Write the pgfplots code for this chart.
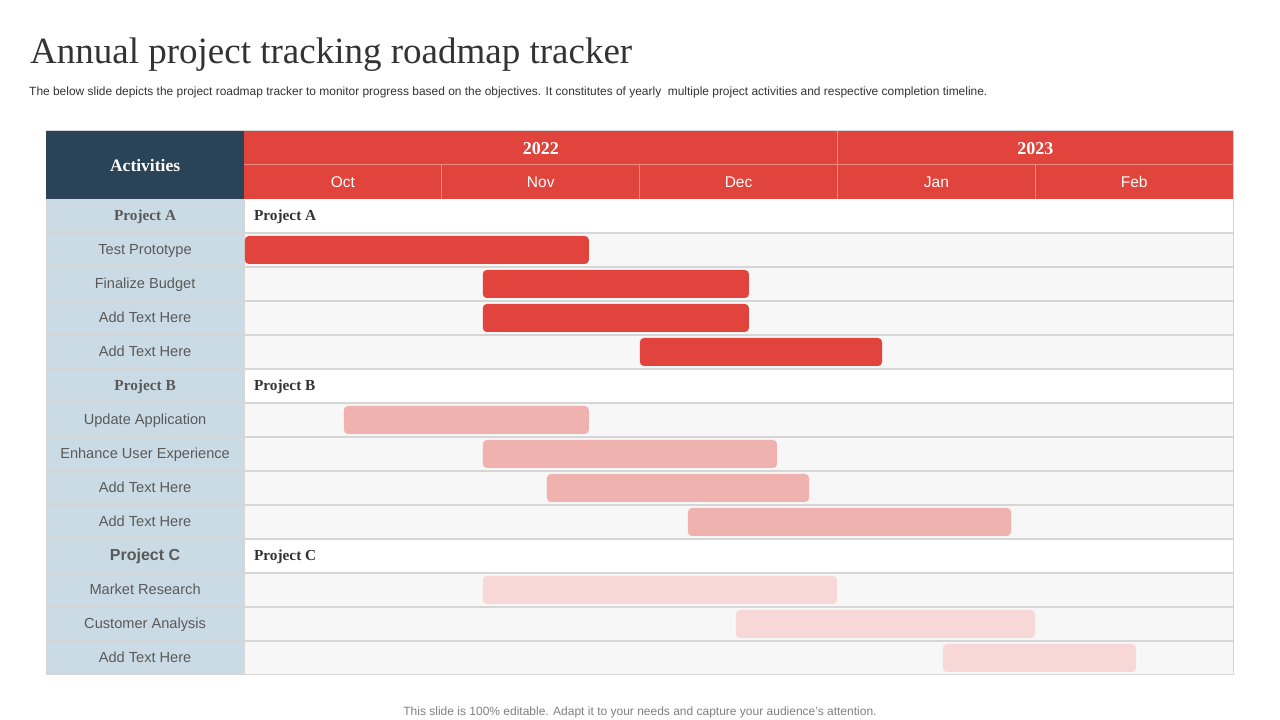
\documentclass[border=0pt]{standalone}
\usepackage{fontspec}
\setmainfont{Liberation Serif}
\setsansfont{Liberation Sans}
\usepackage{pgfplots}
\usepackage{pgfplotstable}
\pgfplotsset{compat=1.18}

\definecolor{hdrred}{HTML}{E0443C}
\definecolor{hdrline}{HTML}{EC8A85}
\definecolor{navy}{HTML}{2A4356}
\definecolor{lblue}{HTML}{CBDBE5}
\definecolor{rowgray}{HTML}{F7F7F7}
\definecolor{gridc}{HTML}{D6D6D6}
\definecolor{pinkm}{HTML}{F0B2AF}
\definecolor{pinkl}{HTML}{F8D8D6}
\definecolor{txtgray}{HTML}{595959}
\definecolor{txtdark}{HTML}{333333}

% bars: row centre (y), start and length in months from 1 Oct 2022
\pgfplotstableread{
y    start dur
12.5 0.005 1.739
11.5 1.208 1.345
10.5 1.208 1.345
9.5  2.002 1.224
}\tabA
\pgfplotstableread{
y    start dur
7.5  0.506 1.238
6.5  1.208 1.487
5.5  1.532 1.325
4.5  2.245 1.633
}\tabB
\pgfplotstableread{
y    start dur
2.5  1.208 1.790
1.5  2.487 1.512
0.5  3.534 0.976
}\tabC

\pgfplotsset{
  gantt/.style={
    scale only axis, width=1187pt, height=544pt,
    xmin=-1, xmax=5, ymin=0, ymax=16,
    hide axis, clip=false,
    at={(46pt,45pt)}, anchor=south west,
    xbar stacked, bar width=28pt,
  },
}
\tikzset{
  lbl/.style={anchor=mid, yshift=-2.5pt, font=\fontsize{14.6}{16}\selectfont\sffamily, text=txtgray},
  plbl/.style={anchor=mid, yshift=-2.5pt, font=\fontsize{15.3}{18}\selectfont\bfseries, text=txtgray},
  tlbl/.style={anchor=mid west, yshift=-2.5pt, inner sep=0, text=txtdark, font=\fontsize{15.3}{18}\selectfont\bfseries},
  mon/.style={anchor=mid, yshift=-3pt, text=white, font=\fontsize{15.5}{18}\selectfont\sffamily},
  yr/.style={anchor=mid, yshift=-4.5pt, text=white, font=\fontsize{18}{20}\selectfont\bfseries},
}

\begin{document}
\begin{tikzpicture}
\fill[white] (0,0) rectangle (1280pt,720pt);
\path[use as bounding box] (0,0) rectangle (1280pt,720pt);

\node[anchor=base west, inner sep=0, text=txtdark,
  font=\fontsize{37}{40}\selectfont] at (30pt,656pt)
  {Annual project tracking roadmap tracker};
\node[anchor=base west, inner sep=0, text=txtdark,
  font=\fontsize{11.95}{13}\selectfont\sffamily] at (29pt,624pt)
  {The below slide depicts the project roadmap tracker to monitor progress based on the objectives. It constitutes of yearly\ \ multiple project activities and respective completion timeline.};
\node[anchor=base, inner sep=0, text=gray,
  font=\fontsize{12}{13}\selectfont\sffamily] at (640pt,4pt)
  {This slide is 100\% editable. Adapt it to your needs and capture your audience's attention.};

% table grid, in month / row units (same as the axes below)
\begin{scope}[shift={(244pt,45pt)}, x=197.833pt, y=34pt]
  \fill[rowgray] (0,0) rectangle (5,14);
  \fill[white] (0,13) rectangle (5,14);
  \fill[white] (0,8) rectangle (5,9);
  \fill[white] (0,3) rectangle (5,4);
  \fill[lblue] (-1,0) rectangle (0,14);
  \foreach \r in {1,...,13} {
    \draw[gridc, line width=1.2pt] (-1,\r) -- (5,\r);
  }
  \draw[gridc, line width=1pt] (0,0) -- (0,14);
  \draw[gridc, line width=1pt] (-1,0) rectangle (5,16);
  \fill[navy] (-1,14) rectangle (0,16);
  \fill[hdrred] (0,14) rectangle (5,16);
  \draw[hdrline, line width=1pt] (0,15) -- (5,15);
  \foreach \m in {1,2,4} {
    \draw[hdrline, line width=1pt] (\m,14) -- (\m,15);
  }
  \draw[hdrline, line width=1pt] (3,14) -- (3,16);
  \node[anchor=mid, yshift=-4.5pt, text=white, font=\fontsize{17.5}{20}\selectfont\bfseries] at (-0.5,15) {Activities};
  \node[yr] at (1.5,15.5) {2022};
  \node[yr] at (4,15.5) {2023};
  \node[mon] at (0.5,14.5) {Oct};
  \node[mon] at (1.5,14.5) {Nov};
  \node[mon] at (2.5,14.5) {Dec};
  \node[mon] at (3.5,14.5) {Jan};
  \node[mon] at (4.5,14.5) {Feb};
  \node[plbl] at (-0.5,13.5) {Project\ A};
  \node[lbl] at (-0.5,12.5) {Test Prototype};
  \node[lbl] at (-0.5,11.5) {Finalize Budget};
  \node[lbl] at (-0.5,10.5) {Add Text Here};
  \node[lbl] at (-0.5,9.5) {Add Text Here};
  \node[plbl] at (-0.5,8.5) {Project\ B};
  \node[lbl] at (-0.5,7.5) {Update Application};
  \node[lbl] at (-0.5,6.5) {Enhance User Experience};
  \node[lbl] at (-0.5,5.5) {Add Text Here};
  \node[lbl] at (-0.5,4.5) {Add Text Here};
  \node[anchor=mid, yshift=-2.5pt, text=txtgray, font=\fontsize{16}{18}\selectfont\sffamily\bfseries] at (-0.5,3.5) {Project C};
  \node[lbl] at (-0.5,2.5) {Market Research};
  \node[lbl] at (-0.5,1.5) {Customer Analysis};
  \node[lbl] at (-0.5,0.5) {Add Text Here};
  \node[tlbl] at (0.05,13.5) {Project\ A};
  \node[tlbl] at (0.05,8.5) {Project\ B};
  \node[tlbl] at (0.05,3.5) {Project\ C};
\end{scope}

\begin{axis}[gantt]
  \addplot[draw=none, fill=none] table[x=start, y=y] {\tabA};
  \addplot[draw=none, fill=hdrred, rounded corners=4pt] table[x=dur, y=y] {\tabA};
\end{axis}

\begin{axis}[gantt]
  \addplot[draw=none, fill=none] table[x=start, y=y] {\tabB};
  \addplot[draw=none, fill=pinkm, rounded corners=4pt] table[x=dur, y=y] {\tabB};
\end{axis}

\begin{axis}[gantt]
  \addplot[draw=none, fill=none] table[x=start, y=y] {\tabC};
  \addplot[draw=none, fill=pinkl, rounded corners=4pt] table[x=dur, y=y] {\tabC};
\end{axis}
\end{tikzpicture}
\end{document}
